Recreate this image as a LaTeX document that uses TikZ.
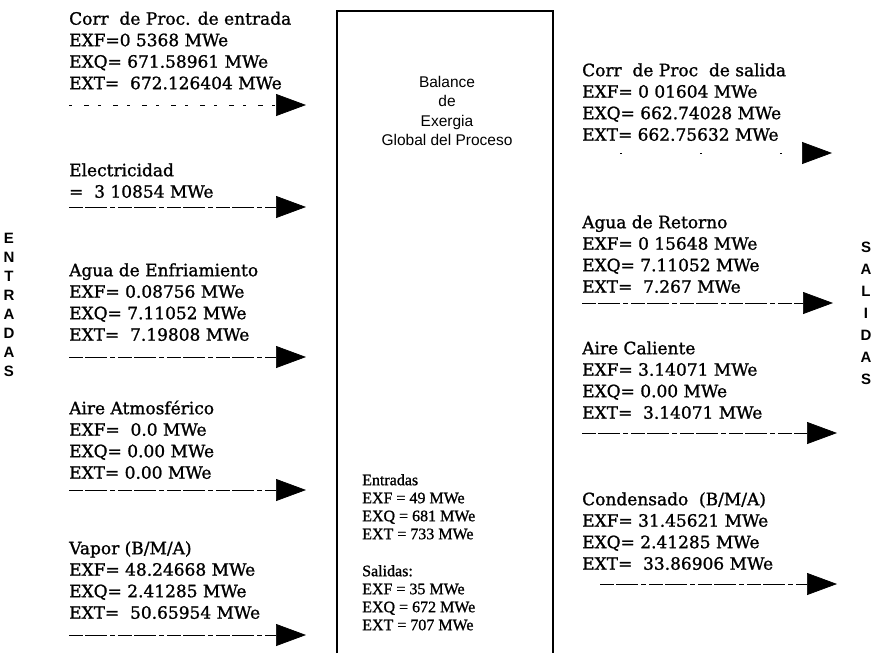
\documentclass[tikz,border=0pt]{standalone}
\usepackage{fontspec}
\setmainfont{Liberation Serif}
\newfontfamily\streamfont{DejaVu Serif}[FakeBold=1.2]
\newfontfamily\totalfont{Liberation Serif}[FakeBold=1]
\newfontfamily\titlefont{Liberation Sans}
\newfontfamily\sidefont{Liberation Sans}
\usetikzlibrary{arrows.meta}

\tikzset{
  stream/.style={font=\streamfont\fontsize{17}{21.5}\selectfont, align=left,
    inner sep=0pt, anchor=north west},
  total/.style={font=\totalfont\fontsize{16}{18}\selectfont, align=left,
    inner sep=0pt, anchor=north west},
  boxtitle/.style={font=\titlefont\fontsize{15.5}{19.5}\selectfont, align=center,
    inner sep=0pt, anchor=north},
  sidelabel/.style={font=\sidefont\bfseries\fontsize{15}{19}\selectfont, align=center,
    inner sep=0pt, anchor=north},
  flow/.style={line width=0.7pt,
    dash pattern=on 14pt off 2pt on 22pt off 3pt on 5pt off 3pt,
    -{Triangle[length=30pt,width=22pt]}},
  faintflow/.style={line width=0.7pt,
    dash pattern=on 3pt off 12pt on 5pt off 9pt,
    -{Triangle[length=30pt,width=22pt]}},
  sparseflow/.style={line width=0.7pt,
    dash pattern=on 2pt off 78pt,
    -{Triangle[length=30pt,width=22pt]}},
}

\begin{document}
\begin{tikzpicture}[x=1pt,y=-1pt]
\useasboundingbox (0,0) rectangle (877,653);

% process box, open at the bottom
\draw[line width=2.2pt] (337,653) -- (337,11) -- (553,11) -- (553,653);

% title and totals inside the box
\node[boxtitle] (title) at (447,{87-13.65})
  {\strut Balance\\de\\Exergia\\Global del Proceso};
\node[total] (totin) at (362,{485-12.6})
  {\strut Entradas\\EXF = 49 MWe\\EXQ = 681 MWe\\EXT = 733 MWe};
\node[total] (totout) at (362,{576-12.6})
  {\strut Salidas:\\EXF = 35 MWe\\EXQ = 672 MWe\\EXT = 707 MWe};

% side labels
\node[sidelabel] (entradas) at (9,{243-13.3})
  {\strut E\\N\\T\\R\\A\\D\\A\\S};
\node[sidelabel,font=\sidefont\bfseries\fontsize{15}{22}\selectfont] (salidas) at (866,{252-15.4})
  {\strut S\\A\\L\\I\\D\\A\\S};

% incoming streams
\node[stream] (in1) at (69,{24.5-15.05})
  {\strut Corr\ \ de Proc. de entrada\\EXF=0 5368 MWe\\EXQ= 671.58961 MWe\\EXT=\ \ 672.126404 MWe};
\node[stream] (in2) at (69,{176-15.05})
  {\strut Electricidad\\=\ \ 3 10854 MWe};
\node[stream] (in3) at (69,{276-15.05})
  {\strut Agua de Enfriamiento\\EXF= 0.08756 MWe\\EXQ= 7.11052 MWe\\EXT=\ \ 7.19808 MWe};
\node[stream] (in4) at (69,{414-15.05})
  {\strut Aire Atmosférico\\EXF=\ \ 0.0 MWe\\EXQ= 0.00 MWe\\EXT= 0.00 MWe};
\node[stream] (in5) at (69,{554-15.05})
  {\strut Vapor (B/M/A)\\EXF= 48.24668 MWe\\EXQ= 2.41285 MWe\\EXT=\ \ 50.65954 MWe};

\coordinate (in1s) at (69,105);  \coordinate (in1e) at (306,105);
\coordinate (in2s) at (69,207);  \coordinate (in2e) at (306,207);
\coordinate (in3s) at (69,357);  \coordinate (in3e) at (306,357);
\coordinate (in4s) at (69,490);  \coordinate (in4e) at (306,490);
\coordinate (in5s) at (69,635);  \coordinate (in5e) at (306,635);
\draw[faintflow] (in1s) -- (in1e);
\draw[flow] (in2s) -- (in2e);
\draw[flow] (in3s) -- (in3e);
\draw[flow] (in4s) -- (in4e);
\draw[flow] (in5s) -- (in5e);

% outgoing streams
\node[stream] (out1) at (582,{76-15.05})
  {\strut Corr\ \ de Proc\ \ de salida\\EXF= 0 01604 MWe\\EXQ= 662.74028 MWe\\EXT= 662.75632 MWe};
\node[stream] (out2) at (582,{228-15.05})
  {\strut Agua de Retorno\\EXF= 0 15648 MWe\\EXQ= 7.11052 MWe\\EXT=\ \ 7.267 MWe};
\node[stream] (out3) at (582,{354-15.05})
  {\strut Aire Caliente\\EXF= 3.14071 MWe\\EXQ= 0.00 MWe\\EXT=\ \ 3.14071 MWe};
\node[stream] (out4) at (582,{505-15.05})
  {\strut Condensado\ \ (B/M/A)\\EXF= 31.45621 MWe\\EXQ= 2.41285 MWe\\EXT=\ \ 33.86906 MWe};

\coordinate (out1s) at (620,153); \coordinate (out1e) at (832,153);
\coordinate (out2s) at (582,303); \coordinate (out2e) at (833,303);
\coordinate (out3s) at (582,433); \coordinate (out3e) at (837,433);
\coordinate (out4s) at (600,584); \coordinate (out4e) at (837,584);
\draw[sparseflow] (out1s) -- (out1e);
\draw[flow] (out2s) -- (out2e);
\draw[flow] (out3s) -- (out3e);
\draw[flow] (out4s) -- (out4e);
\end{tikzpicture}
\end{document}
